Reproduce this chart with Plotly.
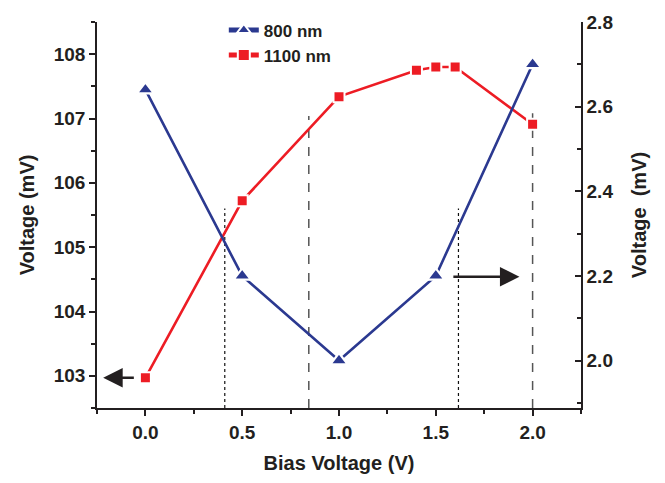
import plotly.graph_objects as go

# ---- data ----
bias_800 = [0.0, 0.5, 1.0, 1.5, 2.0]
volt_800 = [2.64, 2.20, 2.00, 2.20, 2.70]          # right axis (mV)

bias_1100 = [0.0, 0.5, 1.0, 1.4, 1.5, 1.6, 2.0]
volt_1100 = [102.97, 105.72, 107.34, 107.75, 107.80, 107.80, 106.91]  # left axis (mV)

# vertical guide lines (x, top value on left axis, style)
guide_x = [0.41, 0.844, 1.617, 2.0]
guide_top = [105.6, 107.04, 105.6, 107.08]
guide_style = ["dot", "dash", "dot", "dash"]

BLUE = "#2B3990"
RED = "#ED1C24"
INK = "#231F20"
FONT = "Liberation Sans, Arial, sans-serif"

fig = go.Figure()
fig.add_trace(go.Scatter(
    x=bias_800, y=volt_800, name="800 nm", yaxis="y2",
    mode="lines+markers",
    line=dict(color=BLUE, width=2.6),
    marker=dict(symbol="triangle-up", size=15, color=BLUE,
                line=dict(color="white", width=2.2)),
))
fig.add_trace(go.Scatter(
    x=bias_1100, y=volt_1100, name="1100 nm", yaxis="y",
    mode="lines+markers",
    line=dict(color=RED, width=2.6),
    marker=dict(symbol="square", size=11, color=RED,
                line=dict(color="white", width=2)),
))

shapes = []
for gx, gt, gs in zip(guide_x, guide_top, guide_style):
    shapes.append(dict(
        type="line", xref="x", yref="y", x0=gx, x1=gx, y0=102.5, y1=gt,
        line=dict(color="#111111" if gs == "dot" else "#555555",
                  width=1.2 if gs == "dot" else 1.5, dash=gs),
        layer="below",
    ))

annotations = [
    dict(xref="x", yref="y", axref="x", ayref="y",
         x=-0.218, y=102.97, ax=-0.052, ay=102.97,
         showarrow=True, arrowhead=2, arrowsize=1.5, arrowwidth=2.6,
         arrowcolor=INK, text=""),
    dict(xref="x", yref="y2", axref="x", ayref="y2",
         x=1.932, y=2.198, ax=1.583, ay=2.198,
         showarrow=True, arrowhead=2, arrowsize=1.5, arrowwidth=2.6,
         arrowcolor=INK, text=""),
]

axis_common = dict(
    showline=True, linecolor=INK, linewidth=1.5,
    ticks="outside", ticklen=6, tickwidth=1.5, tickcolor=INK,
    showgrid=False, zeroline=False,
    tickfont=dict(family=FONT, size=19, color=INK, weight="bold"),
)

fig.update_layout(
    width=665, height=483,
    margin=dict(l=97, r=84, t=16, b=68),
    paper_bgcolor="white", plot_bgcolor="white",
    font=dict(family=FONT, size=19, color=INK, weight="bold"),
    showlegend=True,
    legend=dict(x=0.262, y=1.025, xanchor="left", yanchor="top",
                bgcolor="rgba(0,0,0,0)", borderwidth=0,
                font=dict(family=FONT, size=17, color=INK, weight="bold"),
                tracegroupgap=0, itemsizing="constant"),
    xaxis=dict(
        **axis_common,
        range=[-0.25, 2.25], dtick=0.5, tick0=0, tickformat=".1f",
        minor=dict(dtick=0.25, ticklen=4, tickwidth=1.5, tickcolor=INK, ticks="outside"),
        title=dict(text="Bias Voltage (V)", standoff=14,
                   font=dict(family=FONT, size=20, color=INK, weight="bold")),
    ),
    yaxis=dict(
        **axis_common,
        range=[102.5, 108.5], dtick=1, tick0=103,
        minor=dict(dtick=0.5, ticklen=4, tickwidth=1.5, tickcolor=INK, ticks="outside"),
        title=dict(text="Voltage (mV)", standoff=14,
                   font=dict(family=FONT, size=20, color=INK, weight="bold")),
    ),
    yaxis2=dict(
        **{**axis_common, "ticks": "inside"},
        overlaying="y", side="right",
        range=[1.888, 2.8], dtick=0.2, tick0=2.0, tickformat=".1f",
        minor=dict(dtick=0.1, ticklen=4, tickwidth=1.5, tickcolor=INK, ticks="inside"),
        title=dict(text="Voltage  (mV)", standoff=20,
                   font=dict(family=FONT, size=20, color=INK, weight="bold")),
    ),
    shapes=shapes,
    annotations=annotations,
)

fig.write_html("out.html")
